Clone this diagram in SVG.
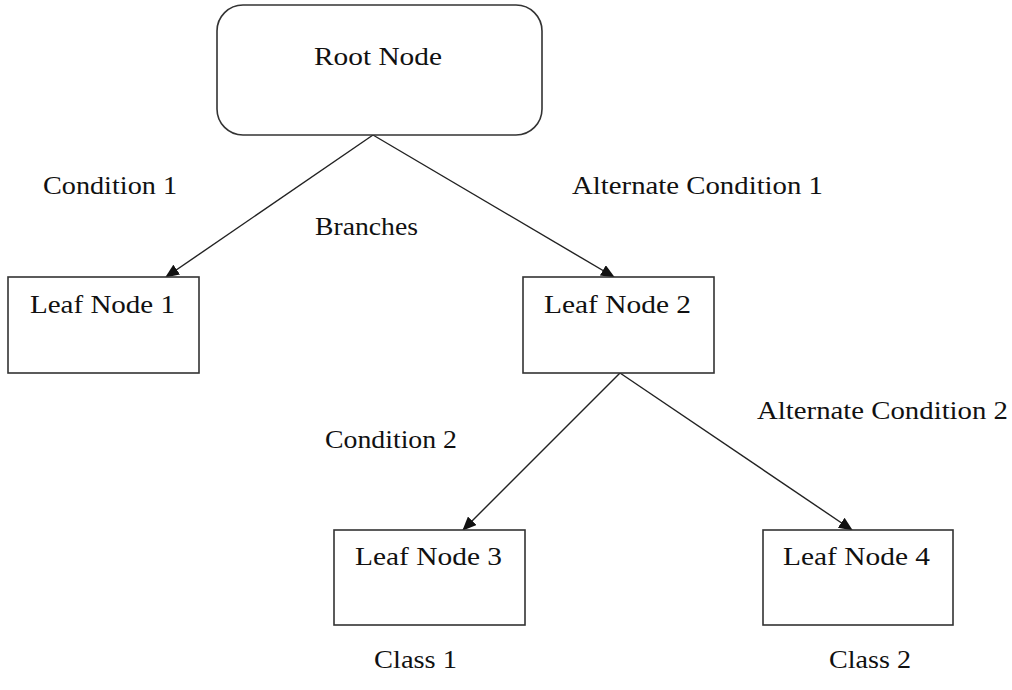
<svg xmlns="http://www.w3.org/2000/svg" width="1012" height="690" viewBox="0 0 1012 690">
<style>
  .box { fill: #ffffff; stroke: #333333; stroke-width: 1.6; }
  .lbl { font-family: "Liberation Serif", "Times New Roman", serif; font-size: 26px; fill: #111111; }
  .edge { stroke: #222222; stroke-width: 1.4; fill: none; marker-end: url(#arrow); }
</style>
<defs>
  <marker id="arrow" markerUnits="userSpaceOnUse" markerWidth="14" markerHeight="12" viewBox="0 0 14 12" refX="13" refY="6" orient="auto">
    <path d="M0,0 L14,6 L0,12 Z" fill="#111111"/>
  </marker>
</defs>
<rect width="1012" height="690" fill="#ffffff"/>
<g id="connectors">
  <line class="edge" x1="373" y1="135" x2="166" y2="277"/>
  <line class="edge" x1="373" y1="135" x2="614" y2="277"/>
  <line class="edge" x1="620" y1="373" x2="463" y2="530"/>
  <line class="edge" x1="620" y1="373" x2="852" y2="530"/>
</g>
<g id="root">
  <rect class="box" x="217" y="5" width="325" height="130" rx="26" ry="26"/>
  <text class="lbl" x="314" y="65" textLength="128" lengthAdjust="spacingAndGlyphs">Root Node</text>
</g>
<g id="leaf1">
  <rect class="box" x="8" y="277" width="191" height="96"/>
  <text class="lbl" x="30" y="313" textLength="145" lengthAdjust="spacingAndGlyphs">Leaf Node 1</text>
</g>
<g id="leaf2">
  <rect class="box" x="523" y="277" width="191" height="96"/>
  <text class="lbl" x="544" y="313" textLength="147" lengthAdjust="spacingAndGlyphs">Leaf Node 2</text>
</g>
<g id="leaf3">
  <rect class="box" x="334" y="530" width="191" height="95"/>
  <text class="lbl" x="355" y="565" textLength="147" lengthAdjust="spacingAndGlyphs">Leaf Node 3</text>
</g>
<g id="leaf4">
  <rect class="box" x="763" y="530" width="190" height="95"/>
  <text class="lbl" x="783" y="565" textLength="147" lengthAdjust="spacingAndGlyphs">Leaf Node 4</text>
</g>
<g id="labels">
  <text class="lbl" x="43" y="194" textLength="134" lengthAdjust="spacingAndGlyphs">Condition 1</text>
  <text class="lbl" x="572" y="194" textLength="251" lengthAdjust="spacingAndGlyphs">Alternate Condition 1</text>
  <text class="lbl" x="315" y="235" textLength="103" lengthAdjust="spacingAndGlyphs">Branches</text>
  <text class="lbl" x="325" y="448" textLength="132" lengthAdjust="spacingAndGlyphs">Condition 2</text>
  <text class="lbl" x="757" y="419" textLength="251" lengthAdjust="spacingAndGlyphs">Alternate Condition 2</text>
  <text class="lbl" x="374" y="668" textLength="83" lengthAdjust="spacingAndGlyphs">Class 1</text>
  <text class="lbl" x="829" y="668" textLength="82" lengthAdjust="spacingAndGlyphs">Class 2</text>
</g>
</svg>
